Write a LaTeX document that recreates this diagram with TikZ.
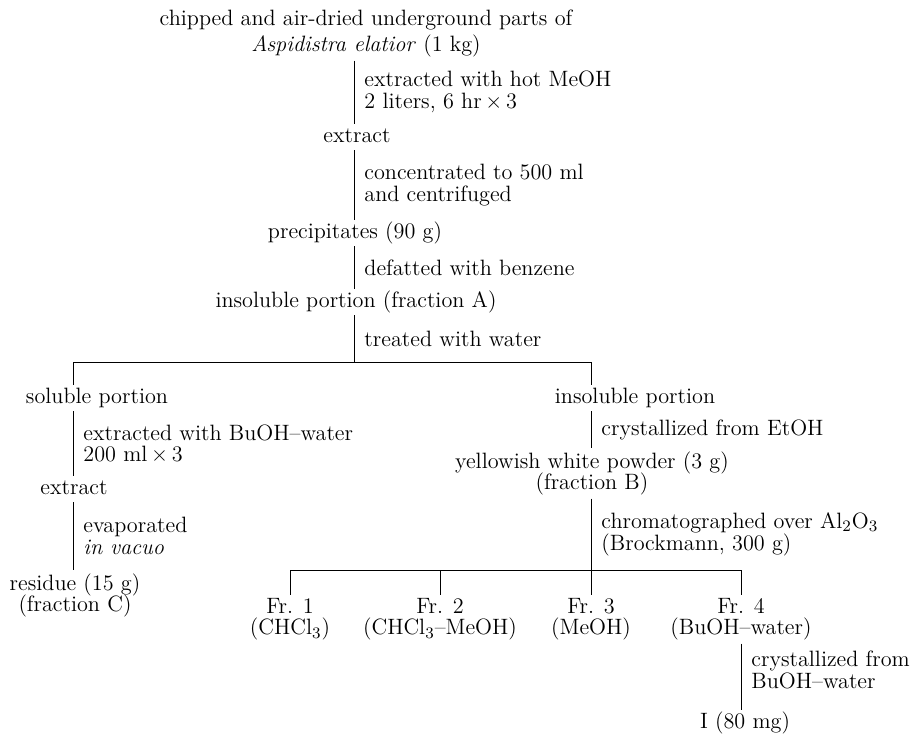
\documentclass[tikz,border=0pt]{standalone}
\usepackage{tikz}

\begin{document}
\begin{tikzpicture}[
  x=0.5pt, y=-0.5pt,
  font={\fontsize{11.1}{10.8}\selectfont\lineskiplimit=-10pt},
  sub/.style={anchor=base, inner sep=1.5pt, text height=0.75em, text depth=0.25em},
  subs/.style={anchor=north, align=center, inner sep=1.5pt},
  op/.style={right, align=left, inner xsep=5pt},
  ln/.style={line width=0.45pt}
]
\useasboundingbox (0,0) rectangle (922,734);
% axes of the scheme
\coordinate (ax) at (354,0);
\coordinate (lx) at (73,0);
\coordinate (rx) at (591,0);
\coordinate (split) at (354,362);
\coordinate (frsplit) at (591,570);

% main stem
\node[subs] (raw) at (366,6) {chipped and air-dried underground parts of\\[2.5pt]\textit{Aspidistra elatior} (1 kg)};
\node[sub] (ext1) at (357,142) {extract};
\node[sub] (prec) at (355,238) {precipitates (90 g)};
\node[sub] (insolA) at (356,307) {insoluble portion (fraction A)};

% water split
\node[sub] (sol) at (97,403) {soluble portion};
\node[sub] (insolB) at (635,403) {insoluble portion};
\node[sub] (ext2) at (74,494) {extract};
\node[subs] (res) at (75,570) {residue (15 g)\\(fraction C)};
\node[subs] (fracB) at (592,448) {yellowish white powder (3 g)\\(fraction B)};

% column fractions
\node[subs] (fr1) at (290,594.6) {Fr. 1\\(CHCl$_3$)};
\node[subs] (fr2) at (440,594.6) {Fr. 2\\(CHCl$_3$--MeOH)};
\node[subs] (fr3) at (591,594.6) {Fr. 3\\(MeOH)};
\node[subs] (fr4) at (741,594.6) {Fr. 4\\(BuOH--water)};
\node[sub] (prod) at (745,728) {I (80 mg)};

\draw[ln] (raw.south -| ax) -- node[op] {extracted with hot MeOH\\2 liters, 6 hr\,×\,3} (ext1.north -| ax);
\draw[ln] (ext1.south -| ax) -- node[op] {concentrated to 500 ml\\and centrifuged} (prec.north -| ax);
\draw[ln] (prec.south -| ax) -- node[op] {defatted with benzene} (insolA.north -| ax);
\draw[ln] (insolA.south -| ax) -- node[op] {treated with water} (split);
\draw[ln] (split -| lx) -- (split -| rx);
\draw[ln] (split -| lx) -- (sol.north -| lx);
\draw[ln] (split -| rx) -- (insolB.north -| rx);

\draw[ln] (sol.south -| lx) -- node[op] {extracted with BuOH--water\\200 ml\,×\,3} (ext2.north -| lx);
\draw[ln] (ext2.south -| lx) -- node[op] {evaporated\\\textit{in vacuo}} (res.north -| lx);

\draw[ln] (insolB.south -| rx) -- node[op] {crystallized from EtOH} (fracB.north -| rx);
\draw[ln] (fracB.south -| rx) -- node[op] {chromatographed over Al$_2$O$_3$\\(Brockmann, 300 g)} (frsplit);
\draw[ln] (fr1.north |- frsplit) -- (fr4.north |- frsplit);
\foreach \f in {fr1,fr2,fr3,fr4}
  \draw[ln] (\f.north |- frsplit) -- (\f.north);

\draw[ln] (fr4.south) -- node[op, pos=0.4] {crystallized from\\BuOH--water} (fr4.south |- prod.north);
\end{tikzpicture}
\end{document}
